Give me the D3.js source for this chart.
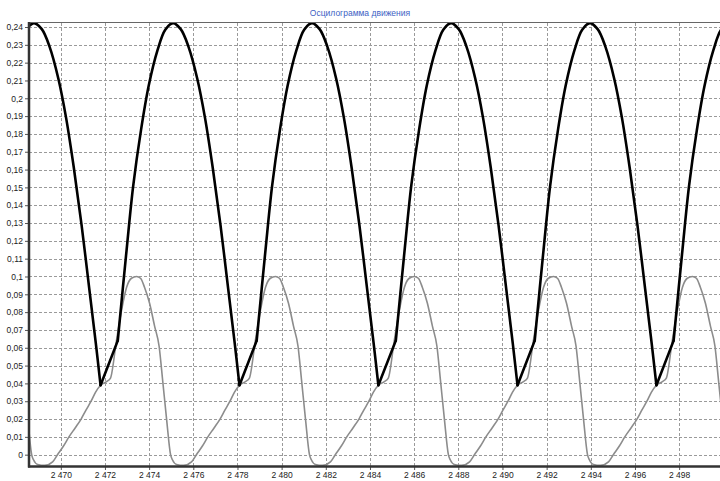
<!DOCTYPE html>
<html>
<head>
<meta charset="utf-8">
<script src="https://cdn.jsdelivr.net/npm/d3@7"></script>
<style>
  html, body { margin: 0; padding: 0; background: #ffffff; }
  svg { display: block; }
</style>
</head>
<body>
<svg id="chart" width="720" height="481"></svg>
<script>
const chartTitle = "Осцилограмма движения";

const xDomain = [2468.56, 2499.85];
const yDomain = [-0.00635, 0.24225];

const xTickValues = [2470, 2472, 2474, 2476, 2478, 2480, 2482, 2484, 2486, 2488, 2490, 2492, 2494, 2496, 2498];
const yTickValues = [0, 0.01, 0.02, 0.03, 0.04, 0.05, 0.06, 0.07, 0.08, 0.09, 0.1, 0.11, 0.12,
  0.13, 0.14, 0.15, 0.16, 0.17, 0.18, 0.19, 0.2, 0.21, 0.22, 0.23, 0.24];

// black series (time, value)
const blackT = [
  2468.56, 2468.79, 2469.14, 2469.49, 2469.89, 2470.24, 2470.59, 2470.94, 2471.29, 2471.59, 2471.80,
  2472.58, 2472.98, 2473.28, 2473.63, 2473.98, 2474.38, 2474.73, 2475.08, 2475.43, 2475.78, 2476.18, 2476.53, 2476.88, 2477.23, 2477.58, 2477.88, 2478.09,
  2478.87, 2479.27, 2479.57, 2479.92, 2480.27, 2480.67, 2481.02, 2481.37, 2481.72, 2482.07, 2482.47, 2482.82, 2483.17, 2483.52, 2483.87, 2484.17, 2484.38,
  2485.17, 2485.57, 2485.87, 2486.22, 2486.57, 2486.97, 2487.32, 2487.67, 2488.02, 2488.37, 2488.77, 2489.12, 2489.47, 2489.82, 2490.17, 2490.47, 2490.68,
  2491.46, 2491.86, 2492.16, 2492.51, 2492.86, 2493.26, 2493.61, 2493.96, 2494.31, 2494.66, 2495.06, 2495.41, 2495.76, 2496.11, 2496.46, 2496.76, 2496.97,
  2497.75, 2498.15, 2498.45, 2498.80, 2499.15, 2499.55, 2499.90, 2500.25
];
const blackV = [
  0.2405, 0.2422, 0.2388, 0.229, 0.211, 0.189, 0.161, 0.129, 0.093, 0.062, 0.039,
  0.064, 0.115, 0.151, 0.182, 0.207, 0.227, 0.2385, 0.2422, 0.2388, 0.229, 0.211, 0.189, 0.161, 0.129, 0.093, 0.062, 0.039,
  0.064, 0.115, 0.151, 0.182, 0.207, 0.227, 0.2385, 0.2422, 0.2388, 0.229, 0.211, 0.189, 0.161, 0.129, 0.093, 0.062, 0.039,
  0.064, 0.115, 0.151, 0.182, 0.207, 0.227, 0.2385, 0.2422, 0.2388, 0.229, 0.211, 0.189, 0.161, 0.129, 0.093, 0.062, 0.039,
  0.064, 0.115, 0.151, 0.182, 0.207, 0.227, 0.2385, 0.2422, 0.2388, 0.229, 0.211, 0.189, 0.161, 0.129, 0.093, 0.062, 0.039,
  0.064, 0.115, 0.151, 0.182, 0.207, 0.227, 0.2385, 0.2422
];

// gray series (time, value)
const grayT = [
  2468.56, 2468.68, 2468.77, 2468.95,
  2469.27, 2469.63, 2469.85, 2470.13, 2470.37, 2470.65, 2470.92, 2471.14, 2471.37, 2471.57, 2471.80,
  2472.07, 2472.25, 2472.52, 2472.75, 2472.98, 2473.20, 2473.43, 2473.61, 2473.79, 2474.02, 2474.25, 2474.45, 2474.61, 2474.79, 2474.97, 2475.06, 2475.24,
  2475.56, 2475.92, 2476.14, 2476.42, 2476.66, 2476.94, 2477.21, 2477.43, 2477.66, 2477.86, 2478.09,
  2478.36, 2478.54, 2478.81, 2479.04, 2479.27, 2479.49, 2479.72, 2479.90, 2480.08, 2480.31, 2480.54, 2480.74, 2480.90, 2481.08, 2481.26, 2481.35, 2481.53,
  2481.85, 2482.21, 2482.43, 2482.71, 2482.95, 2483.23, 2483.50, 2483.72, 2483.95, 2484.15, 2484.38,
  2484.65, 2484.83, 2485.10, 2485.33, 2485.56, 2485.78, 2486.01, 2486.19, 2486.37, 2486.60, 2486.83, 2487.03, 2487.19, 2487.37, 2487.55, 2487.64, 2487.82,
  2488.15, 2488.51, 2488.73, 2489.01, 2489.25, 2489.53, 2489.80, 2490.02, 2490.25, 2490.45, 2490.68,
  2490.95, 2491.13, 2491.40, 2491.63, 2491.86, 2492.08, 2492.31, 2492.49, 2492.67, 2492.90, 2493.13, 2493.33, 2493.49, 2493.67, 2493.85, 2493.94, 2494.12,
  2494.44, 2494.80, 2495.02, 2495.30, 2495.54, 2495.82, 2496.09, 2496.31, 2496.54, 2496.74, 2496.97,
  2497.24, 2497.42, 2497.69, 2497.92, 2498.15, 2498.37, 2498.60, 2498.78, 2498.96, 2499.19, 2499.42, 2499.62, 2499.78, 2499.96
];
const grayV = [
  0.013, 0.000, -0.003, -0.0055,
  -0.006, -0.004, 0.000, 0.005, 0.010, 0.015, 0.020, 0.025, 0.030, 0.035, 0.039,
  0.041, 0.043, 0.064, 0.081, 0.094, 0.099, 0.100, 0.099, 0.094, 0.085, 0.072, 0.061, 0.042, 0.020, 0.000, -0.003, -0.0055,
  -0.006, -0.004, 0.000, 0.005, 0.010, 0.015, 0.020, 0.025, 0.030, 0.035, 0.039,
  0.041, 0.043, 0.064, 0.081, 0.094, 0.099, 0.100, 0.099, 0.094, 0.085, 0.072, 0.061, 0.042, 0.020, 0.000, -0.003, -0.0055,
  -0.006, -0.004, 0.000, 0.005, 0.010, 0.015, 0.020, 0.025, 0.030, 0.035, 0.039,
  0.041, 0.043, 0.064, 0.081, 0.094, 0.099, 0.100, 0.099, 0.094, 0.085, 0.072, 0.061, 0.042, 0.020, 0.000, -0.003, -0.0055,
  -0.006, -0.004, 0.000, 0.005, 0.010, 0.015, 0.020, 0.025, 0.030, 0.035, 0.039,
  0.041, 0.043, 0.064, 0.081, 0.094, 0.099, 0.100, 0.099, 0.094, 0.085, 0.072, 0.061, 0.042, 0.020, 0.000, -0.003, -0.0055,
  -0.006, -0.004, 0.000, 0.005, 0.010, 0.015, 0.020, 0.025, 0.030, 0.035, 0.039,
  0.041, 0.043, 0.064, 0.081, 0.094, 0.099, 0.100, 0.099, 0.094, 0.085, 0.072, 0.061, 0.042, 0.020
];

const blackData = blackT.map((t, i) => [t, blackV[i]]);
const grayData = grayT.map((t, i) => [t, grayV[i]]);

const plot = { left: 29, right: 720, top: 23, bottom: 466 };

const svg = d3.select("#chart");
const x = d3.scaleLinear().domain(xDomain).range([plot.left, plot.right]);
const y = d3.scaleLinear().domain(yDomain).range([plot.bottom, plot.top]);

const font = "'Liberation Sans', Arial, sans-serif";

// title
svg.append("text")
  .attr("x", 360).attr("y", 16)
  .attr("text-anchor", "middle")
  .attr("font-family", font)
  .attr("font-size", "8.5px")
  .attr("fill", "#3d5fc4")
  .text(chartTitle);

// clip
svg.append("defs").append("clipPath").attr("id", "plotclip")
  .append("rect")
  .attr("x", plot.left).attr("y", plot.top)
  .attr("width", plot.right - plot.left).attr("height", plot.bottom - plot.top);

// grid
const grid = svg.append("g").attr("stroke", "#9a9a9a").attr("stroke-width", 1)
  .attr("stroke-dasharray", "3,2").attr("shape-rendering", "crispEdges");
grid.selectAll("line.h").data(yTickValues).join("line")
  .attr("class", "h")
  .attr("x1", plot.left).attr("x2", plot.right)
  .attr("y1", d => Math.round(y(d)) + 0.5).attr("y2", d => Math.round(y(d)) + 0.5);
grid.selectAll("line.v").data(xTickValues).join("line")
  .attr("class", "v")
  .attr("y1", plot.top).attr("y2", plot.bottom)
  .attr("x1", d => Math.round(x(d)) + 0.5).attr("x2", d => Math.round(x(d)) + 0.5);

// y axis
const yAxis = d3.axisLeft(y).tickValues(yTickValues).tickSize(3).tickPadding(2)
  .tickFormat(d => String(+d.toFixed(2)).replace(".", ","));
const yg = svg.append("g").attr("transform", `translate(${plot.left - 1},0)`).call(yAxis);
yg.select(".domain").remove();
yg.selectAll("text").attr("font-family", font).attr("font-size", "8.5px").attr("fill", "#222");
yg.selectAll(".tick line").attr("stroke", "#555");

// x axis
const xAxis = d3.axisBottom(x).tickValues(xTickValues).tickSize(3).tickPadding(2)
  .tickFormat(d => d3.format(",")(d).replace(",", " "));
const xg = svg.append("g").attr("transform", `translate(0,${plot.bottom + 1})`).call(xAxis);
xg.select(".domain").remove();
xg.selectAll("text").attr("font-family", font).attr("font-size", "8.5px").attr("fill", "#222");
xg.selectAll(".tick line").attr("stroke", "#555");

// top frame line
svg.append("line").attr("x1", plot.left).attr("x2", plot.right).attr("y1", plot.top - 0.5).attr("y2", plot.top - 0.5)
  .attr("stroke", "#666").attr("stroke-width", 1);

// series
const series = svg.append("g").attr("clip-path", "url(#plotclip)");

const grayLine = d3.line().x(d => x(d[0])).y(d => y(d[1])).curve(d3.curveMonotoneX);
series.append("path").datum(grayData)
  .attr("d", grayLine).attr("fill", "none").attr("stroke", "#8c8c8c").attr("stroke-width", 1.6)
  .attr("stroke-linejoin", "round");

// black: smooth arches between kink and minimum, straight segment from minimum to kink
const minIdx = [];
blackData.forEach((d, i) => {
  if (i > 0 && i < blackData.length - 1 && d[1] < blackData[i - 1][1] && d[1] < blackData[i + 1][1]) minIdx.push(i);
});
const arches = [];
const links = [];
let start = 0;
minIdx.forEach(m => {
  arches.push(blackData.slice(start, m + 1));
  links.push(blackData.slice(m, m + 2));
  start = m + 1;
});
arches.push(blackData.slice(start));

const archLine = d3.line().x(d => x(d[0])).y(d => y(d[1])).curve(d3.curveCatmullRom.alpha(0.5));
const linkLine = d3.line().x(d => x(d[0])).y(d => y(d[1])).curve(d3.curveLinear);
const blackG = series.append("g").attr("fill", "none").attr("stroke", "#000").attr("stroke-width", 2.6)
  .attr("stroke-linejoin", "round").attr("stroke-linecap", "round");
blackG.selectAll("path.arch").data(arches).join("path").attr("class", "arch").attr("d", archLine);
blackG.selectAll("path.link").data(links).join("path").attr("class", "link").attr("d", linkLine);

// left and bottom axis lines
svg.append("line").attr("x1", plot.left).attr("x2", plot.left).attr("y1", plot.top - 1).attr("y2", plot.bottom + 1.5)
  .attr("stroke", "#333").attr("stroke-width", 2.5);
svg.append("line").attr("x1", plot.left - 1).attr("x2", plot.right).attr("y1", plot.bottom + 0.5).attr("y2", plot.bottom + 0.5)
  .attr("stroke", "#333").attr("stroke-width", 2.5);
</script>
</body>
</html>
